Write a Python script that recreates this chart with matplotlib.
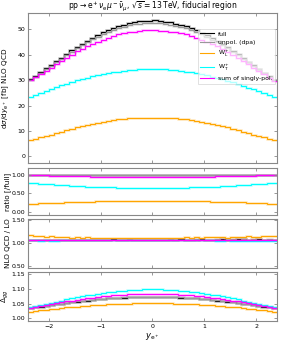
import numpy as np
import matplotlib
matplotlib.use("Agg")
import matplotlib.pyplot as plt

# rapidity bins of the positron, -2.4 .. 2.4 in steps of 0.1
bin_edges = np.round(np.arange(-2.4, 2.41, 0.1), 2)

# dsigma/dy [fb], NLO QCD
full = [30.3, 31.6, 33.1, 34.6, 35.9, 37.4, 38.9, 40.3, 41.7, 43.1, 44.4, 45.6,
        46.8, 47.8, 48.8, 49.7, 50.5, 51.3, 51.9, 52.4, 52.8, 53.2, 53.4, 53.5,
        53.6, 53.3, 53.1, 52.8, 52.3, 51.8, 51.2, 50.4, 49.6, 48.7, 47.7, 46.7,
        45.5, 44.3, 43.0, 41.6, 40.2, 38.8, 37.3, 35.8, 34.4, 32.9, 31.5, 30.1]
unpol = [30.1, 31.3, 32.8, 34.2, 35.5, 37.0, 38.4, 39.8, 41.1, 42.5, 43.8, 45.0,
         46.1, 47.1, 48.1, 49.0, 49.8, 50.5, 51.1, 51.6, 52.0, 52.3, 52.5, 52.6,
         52.6, 52.4, 52.2, 51.9, 51.5, 51.0, 50.4, 49.7, 48.9, 48.0, 47.0, 46.0,
         44.9, 43.7, 42.5, 41.2, 39.8, 38.4, 37.0, 35.6, 34.2, 32.8, 31.3, 30.0]
wl = [6.4, 6.9, 7.5, 8.0, 8.4, 9.0, 9.6, 10.2, 10.8, 11.4, 11.9, 12.4,
      12.9, 13.3, 13.7, 14.0, 14.3, 14.6, 14.8, 14.9, 15.0, 15.1, 15.2, 15.2,
      15.2, 15.1, 15.1, 15.0, 14.9, 14.8, 14.6, 14.3, 14.0, 13.7, 13.3, 12.9,
      12.4, 11.9, 11.4, 10.9, 10.3, 9.7, 9.1, 8.5, 8.0, 7.5, 6.9, 6.3]
wt = [23.5, 24.2, 25.0, 25.8, 26.5, 27.2, 27.9, 28.6, 29.3, 29.9, 30.5, 31.0,
      31.5, 31.9, 32.3, 32.7, 33.1, 33.4, 33.7, 33.9, 34.1, 34.3, 34.4, 34.5,
      34.5, 34.4, 34.3, 34.1, 33.9, 33.7, 33.4, 33.1, 32.7, 32.3, 31.9, 31.4,
      30.9, 30.4, 29.8, 29.2, 28.5, 27.8, 27.1, 26.4, 25.7, 24.9, 24.1, 23.4]
sumpol = [29.9, 31.1, 32.5, 33.8, 34.9, 36.2, 37.5, 38.8, 40.1, 41.3, 42.4, 43.4,
          44.4, 45.2, 46.0, 46.7, 47.4, 48.0, 48.5, 48.8, 49.1, 49.4, 49.6, 49.7,
          49.7, 49.5, 49.4, 49.1, 48.8, 48.5, 48.0, 47.4, 46.7, 46.0, 45.2, 44.3,
          43.3, 42.3, 41.2, 40.0, 38.8, 37.5, 36.2, 34.9, 33.7, 32.4, 31.0, 29.7]

# NLO QCD / LO
k_full = [1.08, 1.07, 1.08, 1.08, 1.07, 1.08, 1.08, 1.08, 1.08, 1.07, 1.08, 1.08,
          1.08, 1.08, 1.08, 1.08, 1.09, 1.08, 1.08, 1.08, 1.08, 1.08, 1.08, 1.08,
          1.08, 1.08, 1.08, 1.08, 1.08, 1.09, 1.08, 1.08, 1.08, 1.09, 1.08, 1.08,
          1.08, 1.09, 1.08, 1.08, 1.09, 1.09, 1.08, 1.08, 1.09, 1.08, 1.08, 1.08]
k_unpol = [1.08, 1.08, 1.08, 1.07, 1.08, 1.08, 1.08, 1.08, 1.08, 1.08, 1.08, 1.08,
           1.08, 1.08, 1.08, 1.08, 1.08, 1.08, 1.08, 1.09, 1.08, 1.08, 1.08, 1.08,
           1.08, 1.08, 1.08, 1.09, 1.08, 1.08, 1.08, 1.08, 1.09, 1.08, 1.08, 1.08,
           1.09, 1.08, 1.08, 1.09, 1.08, 1.09, 1.08, 1.09, 1.08, 1.08, 1.09, 1.08]
k_wl = [1.17, 1.16, 1.15, 1.14, 1.16, 1.13, 1.14, 1.13, 1.12, 1.13, 1.12, 1.13,
        1.12, 1.12, 1.11, 1.12, 1.12, 1.12, 1.11, 1.12, 1.12, 1.12, 1.12, 1.11,
        1.12, 1.12, 1.11, 1.12, 1.12, 1.12, 1.13, 1.12, 1.13, 1.12, 1.13, 1.13,
        1.14, 1.13, 1.12, 1.14, 1.13, 1.14, 1.15, 1.14, 1.14, 1.15, 1.15, 1.16]
k_wt = [1.07, 1.07, 1.06, 1.07, 1.06, 1.06, 1.07, 1.07, 1.07, 1.07, 1.07, 1.07,
        1.07, 1.07, 1.07, 1.07, 1.07, 1.07, 1.07, 1.07, 1.07, 1.07, 1.07, 1.07,
        1.07, 1.07, 1.07, 1.07, 1.07, 1.07, 1.07, 1.07, 1.07, 1.07, 1.07, 1.07,
        1.06, 1.06, 1.07, 1.06, 1.06, 1.06, 1.06, 1.06, 1.06, 1.06, 1.06, 1.06]
k_sum = [1.08, 1.08, 1.08, 1.08, 1.08, 1.08, 1.08, 1.08, 1.08, 1.08, 1.08, 1.08,
         1.08, 1.08, 1.08, 1.08, 1.08, 1.08, 1.08, 1.08, 1.08, 1.08, 1.08, 1.08,
         1.08, 1.08, 1.08, 1.08, 1.08, 1.08, 1.08, 1.08, 1.08, 1.08, 1.08, 1.08,
         1.08, 1.08, 1.08, 1.08, 1.08, 1.08, 1.08, 1.08, 1.07, 1.07, 1.07, 1.07]

# Delta_gg
d_full = [1.035, 1.037, 1.040, 1.042, 1.045, 1.047, 1.049, 1.052, 1.054, 1.056, 1.058, 1.060,
          1.062, 1.064, 1.065, 1.067, 1.068, 1.069, 1.070, 1.071, 1.071, 1.072, 1.072, 1.072,
          1.072, 1.072, 1.072, 1.071, 1.071, 1.070, 1.069, 1.068, 1.067, 1.065, 1.064, 1.062,
          1.060, 1.058, 1.056, 1.054, 1.052, 1.049, 1.047, 1.045, 1.042, 1.040, 1.037, 1.035]
d_unpol = [1.036, 1.038, 1.041, 1.043, 1.046, 1.048, 1.050, 1.053, 1.055, 1.057, 1.059, 1.061,
           1.063, 1.065, 1.066, 1.068, 1.069, 1.070, 1.071, 1.072, 1.072, 1.073, 1.073, 1.073,
           1.073, 1.073, 1.073, 1.072, 1.072, 1.071, 1.070, 1.069, 1.068, 1.066, 1.065, 1.063,
           1.061, 1.059, 1.057, 1.055, 1.053, 1.050, 1.048, 1.046, 1.043, 1.041, 1.038, 1.036]
d_wl = [1.023, 1.025, 1.027, 1.029, 1.031, 1.033, 1.035, 1.037, 1.038, 1.040, 1.042, 1.043,
        1.044, 1.045, 1.046, 1.047, 1.048, 1.049, 1.050, 1.050, 1.051, 1.051, 1.051, 1.051,
        1.051, 1.051, 1.051, 1.051, 1.050, 1.050, 1.049, 1.048, 1.047, 1.046, 1.045, 1.044,
        1.043, 1.042, 1.040, 1.038, 1.037, 1.035, 1.033, 1.031, 1.029, 1.027, 1.025, 1.023]
d_wt = [1.038, 1.041, 1.045, 1.048, 1.052, 1.056, 1.060, 1.064, 1.068, 1.071, 1.074, 1.077,
        1.080, 1.083, 1.085, 1.087, 1.089, 1.091, 1.093, 1.094, 1.095, 1.096, 1.097, 1.097,
        1.097, 1.097, 1.096, 1.095, 1.094, 1.093, 1.091, 1.089, 1.087, 1.085, 1.083, 1.080,
        1.077, 1.074, 1.071, 1.068, 1.064, 1.060, 1.056, 1.052, 1.048, 1.045, 1.041, 1.038]
d_sum = [1.036, 1.039, 1.042, 1.045, 1.048, 1.051, 1.054, 1.057, 1.060, 1.063, 1.065, 1.068,
         1.070, 1.072, 1.074, 1.076, 1.077, 1.079, 1.080, 1.081, 1.082, 1.083, 1.083, 1.083,
         1.083, 1.083, 1.083, 1.082, 1.081, 1.080, 1.079, 1.077, 1.076, 1.074, 1.072, 1.070,
         1.068, 1.065, 1.063, 1.060, 1.057, 1.054, 1.051, 1.048, 1.045, 1.042, 1.039, 1.036]

labels = ["full", "unpol. (dpa)", r"W$^+_{\mathrm{L}}$", r"W$^+_{\mathrm{T}}$", "sum of singly-pol."]
colors = ["black", "#999999", "#ffa500", "#00ffff", "#ff00ff"]

plt.rcParams["font.family"] = ["DejaVu Sans"]
plt.rcParams["mathtext.fontset"] = "dejavusans"

fig = plt.figure(figsize=(2.88, 3.42), dpi=100)
left, width = 0.097, 0.865
ax_main = fig.add_axes([left, 0.523, width, 0.440])
ax_rat = fig.add_axes([left, 0.371, width, 0.138])
ax_k = fig.add_axes([left, 0.215, width, 0.146])
ax_d = fig.add_axes([left, 0.060, width, 0.146])
axes = [ax_main, ax_rat, ax_k, ax_d]


def draw(ax, series):
    for vals, col, lab in zip(series, colors, labels):
        ax.stairs(vals, bin_edges, color=col, lw=1.8, alpha=0.25, baseline=None)
        ax.stairs(vals, bin_edges, color=col, lw=0.8, label=lab, baseline=None)


draw(ax_main, [full, unpol, wl, wt, sumpol])
full_a = np.array(full)
draw(ax_rat, [np.array(s) / full_a for s in [full, unpol, wl, wt, sumpol]])
draw(ax_k, [k_full, k_unpol, k_wl, k_wt, k_sum])
draw(ax_d, [d_full, d_unpol, d_wl, d_wt, d_sum])

ax_main.set_ylim(-2.7, 56.6)
ax_main.set_yticks([0, 10, 20, 30, 40, 50])
ax_rat.set_ylim(-0.09, 1.18)
ax_rat.set_yticks([0.0, 0.5, 1.0])
ax_rat.set_yticklabels(["0.00", "0.50", "1.00"])
ax_k.set_ylim(0.45, 1.54)
ax_k.set_yticks([0.5, 1.0, 1.5])
ax_k.set_yticklabels(["0.50", "1.00", "1.50"])
ax_d.set_ylim(0.99, 1.157)
ax_d.set_yticks([1.00, 1.05, 1.10, 1.15])
ax_d.set_yticklabels(["1.00", "1.05", "1.10", "1.15"])

for ax in axes:
    ax.set_xlim(-2.4, 2.4)
    ax.set_xticks([-2, -1, 0, 1, 2])
    ax.tick_params(direction="in", top=True, right=True, labelsize=4.5,
                   length=2.5, width=0.6, color="#888888", pad=2)
    for sp in ax.spines.values():
        sp.set_color("#888888")
        sp.set_linewidth(0.8)
    ax.yaxis.set_label_coords(-0.068, 0.5)
    if ax is not ax_d:
        ax.tick_params(labelbottom=False)

ax_main.set_title(r"$\mathrm{pp}\rightarrow\mathrm{e}^+\nu_{\mathrm{e}}\mu^-\bar{\nu}_{\mu}$, $\sqrt{s}=13\,$TeV, fiducial region",
                  fontsize=5.5, pad=3)
ax_main.set_ylabel(r"$\mathrm{d}\sigma/\mathrm{d}y_{\mathrm{e}^+}$ [fb] NLO QCD", fontsize=5.2)
ax_rat.set_ylabel("ratio [/full]", fontsize=5.2)
ax_k.set_ylabel("NLO QCD / LO", fontsize=5.2)
ax_d.set_ylabel(r"$\Delta_{gg}$", fontsize=5.2)
ax_d.set_xlabel(r"$y_{\mathrm{e}^+}$", fontsize=6, labelpad=1)

leg = ax_main.legend(loc="upper right", bbox_to_anchor=(1.0, 0.905), fontsize=4.4,
                     frameon=True, fancybox=False, edgecolor="#cccccc",
                     framealpha=0.7, handlelength=2.3, borderpad=0.4,
                     labelspacing=0.55, borderaxespad=0.3, handletextpad=0.6)
leg.get_frame().set_linewidth(0.6)

fig.savefig("out.png", dpi=100)
plt.close(fig)
